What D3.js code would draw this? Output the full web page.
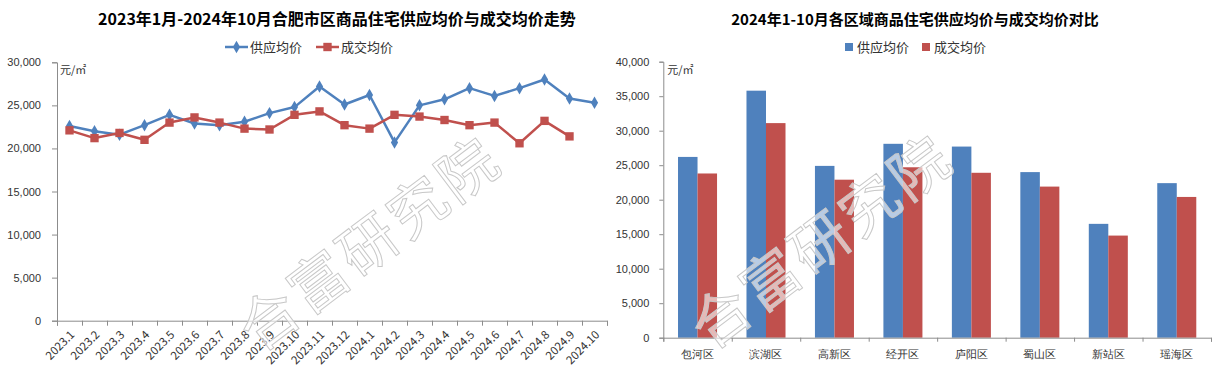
<!DOCTYPE html>
<html>
<head>
<meta charset="utf-8">
<script src="https://cdn.jsdelivr.net/npm/d3@7"></script>
<style>
  body { margin: 0; background: #fff; }
  svg { display: block; font-family: "Noto Sans CJK SC", "Noto Sans", sans-serif; }
</style>
</head>
<body>
<div id="chart"></div>
<script>
// left chart: monthly trend
const months = ['2023.1', '2023.2', '2023.3', '2023.4', '2023.5', '2023.6', '2023.7', '2023.8', '2023.9', '2023.10', '2023.11', '2023.12',
  '2024.1', '2024.2', '2024.3', '2024.4', '2024.5', '2024.6', '2024.7', '2024.8', '2024.9', '2024.10']
const supplyTrend = [22600, 22000, 21600, 22700, 23900, 22900, 22700, 23100, 24100, 24800, 27200, 25100,
  26200, 20700, 25000, 25700, 27000, 26100, 27000, 28000, 25800, 25300]
const dealTrend = [22100, 21200, 21800, 21000, 23000, 23600, 23000, 22300, 22200, 23900, 24300, 22700,
  22300, 23900, 23700, 23300, 22700, 23000, 20600, 23200, 21400, null]
const trendTicks = [0, 5000, 10000, 15000, 20000, 25000, 30000]

// right chart: district comparison
const districts = ['包河区', '滨湖区', '高新区', '经开区', '庐阳区', '蜀山区', '新站区', '瑶海区']
const supplyDistrict = [26200, 35800, 24900, 28100, 27700, 24000, 16500, 22400]
const dealDistrict = [23800, 31100, 22900, 24700, 23900, 21900, 14800, 20400]
const districtTicks = [0, 5000, 10000, 15000, 20000, 25000, 30000, 35000, 40000]

const seriesNames = ['供应均价', '成交均价']
const BLUE = '#4f81bd'
const RED = '#c0504d'
const AXIS = '#8c8c8c'
const TEXT = '#333'

const W = 1227
const H = 377
const fmt = d3.format(',')

const svg = d3.select('#chart').append('svg')
  .attr('width', W)
  .attr('height', H)

function styleAxis (g) {
  g.select('.domain').attr('stroke', AXIS)
  g.selectAll('.tick line').attr('stroke', AXIS)
  g.selectAll('.tick text').attr('fill', TEXT).attr('font-size', 11)
}

// ---------- left: line chart ----------
{
  const left = 57
  const right = 607
  const top = 62.3
  const bottom = 320.7

  const x = d3.scaleBand().domain(months).range([left, right])
  const xEdge = d3.scaleLinear().domain([0, months.length]).range([left, right])
  const y = d3.scaleLinear().domain([0, 30000]).range([bottom, top])
  const cx = d => x(d) + x.bandwidth() / 2

  svg.append('text')
    .attr('x', 337).attr('y', 25)
    .attr('text-anchor', 'middle')
    .attr('font-size', 16).attr('font-weight', 'bold').attr('fill', '#000')
    .text('2023年1月-2024年10月合肥市区商品住宅供应均价与成交均价走势')

  svg.append('g')
    .attr('transform', `translate(${left},0)`)
    .call(d3.axisLeft(y).tickValues(trendTicks).tickFormat(fmt).tickSize(5).tickPadding(11))
    .call(styleAxis)

  svg.append('g')
    .attr('transform', `translate(0,${bottom})`)
    .call(d3.axisBottom(xEdge).ticks(months.length).tickFormat('').tickSize(5))
    .call(styleAxis)

  svg.append('g')
    .selectAll('text')
    .data(months)
    .join('text')
    .attr('transform', d => `translate(${cx(d) + 3},${bottom + 12}) rotate(-45)`)
    .attr('text-anchor', 'end')
    .attr('dy', '0.35em')
    .attr('font-size', 11.5)
    .attr('fill', TEXT)
    .text(d => d)

  svg.append('text')
    .attr('x', left + 3).attr('y', top + 12)
    .attr('font-size', 11).attr('fill', TEXT)
    .text('元/㎡')

  const series = [
    { name: seriesNames[0], values: supplyTrend, color: BLUE, shape: d3.symbolDiamond, size: 45 },
    { name: seriesNames[1], values: dealTrend, color: RED, shape: d3.symbolSquare, size: 70 }
  ]

  series.forEach(s => {
    const pts = months.map((m, i) => ({ m, v: s.values[i] }))
    const line = d3.line()
      .defined(d => d.v != null)
      .x(d => cx(d.m))
      .y(d => y(d.v))

    svg.append('path')
      .datum(pts)
      .attr('fill', 'none')
      .attr('stroke', s.color)
      .attr('stroke-width', 2.5)
      .attr('stroke-linejoin', 'round')
      .attr('d', line)

    svg.append('g')
      .selectAll('path')
      .data(pts.filter(d => d.v != null))
      .join('path')
      .attr('transform', d => `translate(${cx(d.m)},${y(d.v)})`)
      .attr('d', d3.symbol().type(s.shape).size(s.size))
      .attr('fill', s.color)
  })

  // legend
  const legend = svg.append('g').attr('transform', 'translate(225,47)')
  const items = legend.selectAll('g')
    .data(series)
    .join('g')
    .attr('transform', (d, i) => `translate(${i * 91},0)`)
  items.append('line')
    .attr('x1', 0).attr('x2', 23)
    .attr('stroke', d => d.color).attr('stroke-width', 2.5)
  items.append('path')
    .attr('transform', 'translate(11.5,0)')
    .attr('d', d => d3.symbol().type(d.shape).size(d.size)())
    .attr('fill', d => d.color)
  items.append('text')
    .attr('x', 25).attr('dy', '0.35em')
    .attr('font-size', 13).attr('fill', TEXT)
    .text(d => d.name)
}

// ---------- right: grouped bars ----------
{
  const left = 663.3
  const right = 1211
  const top = 61.7
  const bottom = 337.7

  const x = d3.scaleBand().domain(districts).range([left, right])
    .paddingInner(0.43).paddingOuter(0.215)
  const xEdge = d3.scaleLinear().domain([0, districts.length]).range([left, right])
  const xSub = d3.scaleBand().domain(seriesNames).range([0, x.bandwidth()])
  const y = d3.scaleLinear().domain([0, 40000]).range([bottom, top])

  svg.append('text')
    .attr('x', 915).attr('y', 25)
    .attr('text-anchor', 'middle')
    .attr('font-size', 15).attr('font-weight', 'bold').attr('fill', '#000')
    .text('2024年1-10月各区域商品住宅供应均价与成交均价对比')

  const rows = districts.map((d, i) => ({
    district: d,
    vals: [
      { name: seriesNames[0], v: supplyDistrict[i], color: BLUE },
      { name: seriesNames[1], v: dealDistrict[i], color: RED }
    ]
  }))

  svg.append('g')
    .selectAll('g')
    .data(rows)
    .join('g')
    .attr('transform', d => `translate(${x(d.district)},0)`)
    .selectAll('rect')
    .data(d => d.vals)
    .join('rect')
    .attr('x', d => xSub(d.name))
    .attr('width', xSub.bandwidth())
    .attr('y', d => y(d.v))
    .attr('height', d => bottom - y(d.v))
    .attr('fill', d => d.color)

  svg.append('g')
    .attr('transform', `translate(${left},0)`)
    .call(d3.axisLeft(y).tickValues(districtTicks).tickFormat(fmt).tickSize(4).tickPadding(10))
    .call(styleAxis)

  svg.append('g')
    .attr('transform', `translate(0,${bottom})`)
    .call(d3.axisBottom(xEdge).ticks(districts.length).tickFormat('').tickSize(4))
    .call(styleAxis)

  svg.append('g')
    .attr('transform', `translate(0,${bottom})`)
    .call(d3.axisBottom(x).tickSize(0).tickPadding(13))
    .call(g => g.select('.domain').remove())
    .call(styleAxis)

  svg.append('text')
    .attr('x', left + 4).attr('y', top + 12)
    .attr('font-size', 11).attr('fill', TEXT)
    .text('元/㎡')

  const legend = svg.append('g').attr('transform', 'translate(845,47)')
  const items = legend.selectAll('g')
    .data([{ name: seriesNames[0], color: BLUE }, { name: seriesNames[1], color: RED }])
    .join('g')
    .attr('transform', (d, i) => `translate(${i * 77},0)`)
  items.append('rect')
    .attr('y', -4).attr('width', 8).attr('height', 8)
    .attr('fill', d => d.color)
  items.append('text')
    .attr('x', 12).attr('dy', '0.35em')
    .attr('font-size', 13).attr('fill', TEXT)
    .text(d => d.name)
}

// watermark
svg.append('g')
  .selectAll('text')
  .data([[370, 244], [822, 242]])
  .join('text')
  .attr('transform', d => `translate(${d[0]},${d[1]}) rotate(-37)`)
  .attr('text-anchor', 'middle')
  .attr('dy', '0.35em')
  .attr('font-size', 58)
  .attr('letter-spacing', 4)
  .attr('fill', '#fff')
  .attr('fill-opacity', 0.6)
  .attr('stroke', '#c8c8c8')
  .attr('stroke-width', 1)
  .text('合富研究院')
</script>
</body>
</html>
